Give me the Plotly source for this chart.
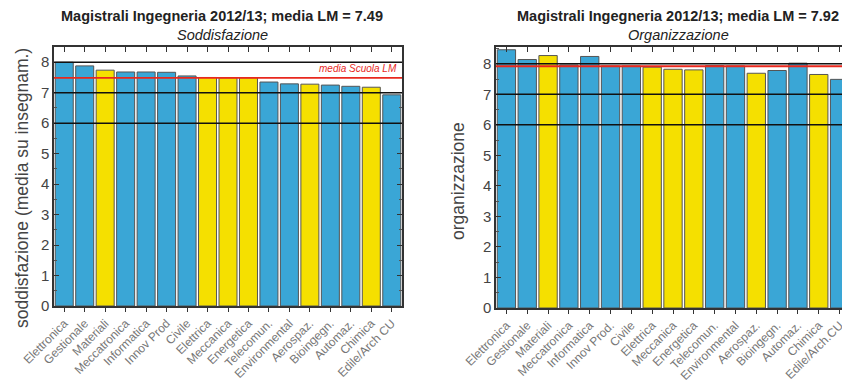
import plotly.graph_objects as go

categorie_sodd = ["Elettronica", "Gestionale", "Materiali", "Meccatronica", "Informatica",
                  "Innov Prod", "Civile", "Elettrica", "Meccanica", "Energetica",
                  "Telecomun.", "Environmental", "Aerospaz.", "Bioingegn.", "Automaz.",
                  "Chimica", "Edile/Arch CU"]
soddisfazione = [8.00, 7.88, 7.74, 7.68, 7.68, 7.67, 7.55, 7.50, 7.49, 7.49,
                 7.35, 7.29, 7.28, 7.25, 7.21, 7.18, 6.93]
evidenziati_sodd = [False, False, True, False, False, False, False, True, True, True,
                    False, False, True, False, False, True, False]
media_sodd = 7.49

categorie_org = ["Elettronica", "Gestionale", "Materiali", "Meccatronica", "Informatica",
                 "Innov Prod.", "Civile", "Elettrica", "Meccanica", "Energetica",
                 "Telecomun.", "Environmental", "Aerospaz.", "Bioingegn.", "Automaz.",
                 "Chimica", "Edile/Arch.CU"]
organizzazione = [8.46, 8.14, 8.27, 7.96, 8.24, 7.93, 7.93, 7.89, 7.82, 7.80,
                  7.94, 7.93, 7.69, 7.78, 8.02, 7.65, 7.49]
evidenziati_org = [False, False, True, False, False, False, False, True, True, True,
                   False, False, True, False, False, True, False]
media_org = 7.92

soglie = [6, 7, 8]

BLU = "#3aa6d6"
GIALLO = "#f5e000"
FONT = "Liberation Sans, Arial, sans-serif"

# page body has an 8px margin: figure placed at (8, 8)
OFF = 8
W, H = 850 - OFF, 387 - OFF

def px(x):
    return (x - OFF) / W

def py(y):
    return 1 - (y - OFF) / H

fig = go.Figure()

def colori(flags):
    return [GIALLO if f else BLU for f in flags]

fig.add_trace(go.Bar(x=categorie_sodd, y=soddisfazione, marker_color=colori(evidenziati_sodd),
                     marker_line=dict(color="#555555", width=1), xaxis="x", yaxis="y",
                     showlegend=False))
fig.add_trace(go.Bar(x=categorie_org, y=organizzazione, marker_color=colori(evidenziati_org),
                     marker_line=dict(color="#555555", width=1), xaxis="x2", yaxis="y2",
                     showlegend=False))
# invisible traces to carry the top tick axes
fig.add_trace(go.Scatter(x=categorie_sodd, y=soddisfazione, mode="markers", opacity=0,
                         xaxis="x3", yaxis="y", showlegend=False, hoverinfo="skip"))
fig.add_trace(go.Scatter(x=categorie_org, y=organizzazione, mode="markers", opacity=0,
                         xaxis="x4", yaxis="y2", showlegend=False, hoverinfo="skip"))

dom1 = [px(54), px(402)]
dom2 = [px(496), 1.0]
ydom1 = [py(306), py(47)]
ydom2 = [py(308), py(47)]

xcommon = dict(showline=True, linecolor="#333", linewidth=1.5, ticks="outside", ticklen=4,
               tickcolor="#333", tickangle=-45, tickfont=dict(family=FONT, size=12, color="#777"),
               range=[-0.5, 16.5], showgrid=False, mirror=True, automargin=False)
ycommon = dict(showline=True, linecolor="#333", linewidth=1.5, ticks="inside", ticklen=5,
               tickcolor="#333", mirror="ticks", showgrid=False, dtick=1, zeroline=False,
               automargin=False,
               tickfont=dict(family=FONT, size=15, color="#444"),
               minor=dict(ticks="inside", ticklen=3, dtick=0.5, tickcolor="#555"))
topcommon = dict(ticks="inside", ticklen=5, tickcolor="#333", showticklabels=False,
                 range=[-0.5, 16.5], showgrid=False, side="top", showline=False,
                 automargin=False)

fig.update_layout(
    width=W, height=H,
    margin=dict(l=0, r=0, t=0, b=0, autoexpand=False),
    paper_bgcolor="white", plot_bgcolor="white",
    bargap=0.12,
    xaxis=dict(domain=dom1, anchor="y", **xcommon),
    yaxis=dict(domain=ydom1, anchor="x", range=[0, 8.5], **ycommon),
    xaxis2=dict(domain=dom2, anchor="y2", **xcommon),
    yaxis2=dict(domain=ydom2, anchor="x2", range=[0, 8.55], **ycommon),
    xaxis3=dict(overlaying="x", anchor="y", **topcommon),
    xaxis4=dict(overlaying="x2", anchor="y2", **topcommon),
)

shapes = []
for s in soglie:
    for xr, yr in (("x domain", "y"), ("x2 domain", "y2")):
        shapes.append(dict(type="line", xref=xr, yref=yr, x0=0, x1=1, y0=s, y1=s,
                           line=dict(color="#111", width=1.5), layer="above"))
shapes.append(dict(type="line", xref="x domain", yref="y", x0=0, x1=1, y0=media_sodd, y1=media_sodd,
                   line=dict(color="#e8281e", width=1.8), layer="above"))
shapes.append(dict(type="line", xref="x2 domain", yref="y2", x0=0, x1=1, y0=media_org, y1=media_org,
                   line=dict(color="#e8281e", width=1.8), layer="above"))
fig.update_layout(shapes=shapes)

tfont = dict(family=FONT, size=14.5, color="#222")
ann = [
    dict(text="<b>Magistrali Ingegneria 2012/13; media LM = %.2f</b>" % media_sodd,
         x=px(222), y=py(16), xanchor="center", yanchor="middle", font=tfont),
    dict(text="<i>Soddisfazione</i>", x=px(222), y=py(35), xanchor="center",
         yanchor="middle", font=tfont),
    dict(text="<b>Magistrali Ingegneria 2012/13; media LM = %.2f</b>" % media_org,
         x=px(678), y=py(16), xanchor="center", yanchor="middle", font=tfont),
    dict(text="<i>Organizzazione</i>", x=px(678), y=py(35), xanchor="center",
         yanchor="middle", font=tfont),
    dict(text="soddisfazione (media su insegnam.)", x=px(22), y=py(188), textangle=-90,
         xanchor="center", yanchor="middle",
         font=dict(family=FONT, size=17.5, color="#444")),
    dict(text="organizzazione", x=px(458), y=py(181), textangle=-90,
         xanchor="center", yanchor="middle",
         font=dict(family=FONT, size=17.5, color="#444")),
]
for a in ann:
    a.update(xref="paper", yref="paper", showarrow=False)
ann.append(dict(text="<i>media Scuola LM</i>", x=0.99, y=media_sodd + 0.05, xref="x domain",
                yref="y", xanchor="right", yanchor="bottom", showarrow=False,
                font=dict(family=FONT, size=10, color="#e8281e")))
fig.update_layout(annotations=ann)

fig.write_html("out.html")
